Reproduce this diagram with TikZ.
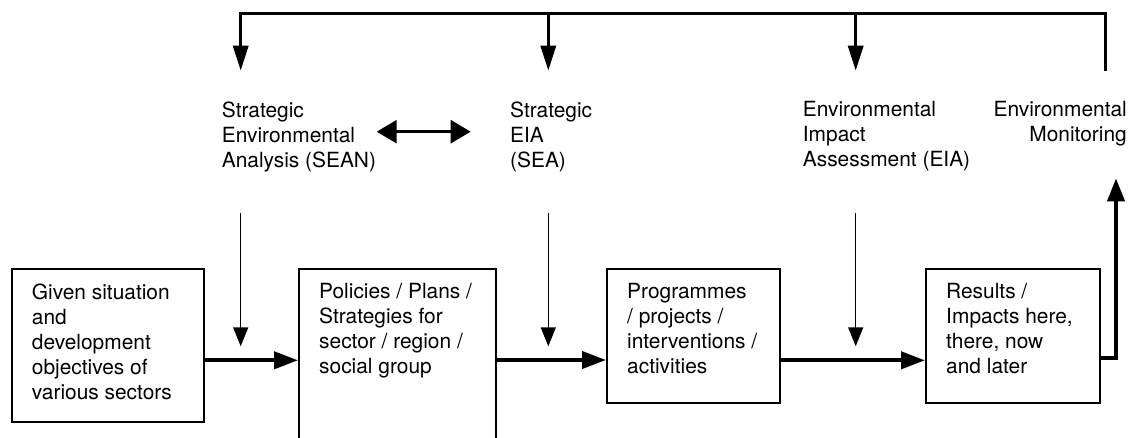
\documentclass[tikz,border=0pt]{standalone}
\usepackage{fontspec}
\setmainfont{TeX Gyre Heros}
\usetikzlibrary{arrows.meta}
\begin{document}
\begin{tikzpicture}[x=1pt,y=-1pt,
  lbl/.style={font=\fontsize{20.9}{25}\selectfont, inner sep=0pt, align=left, anchor=north west},
  rlbl/.style={font=\fontsize{20.9}{25}\selectfont, inner sep=0pt, align=right, anchor=north east},
  boxnode/.style={draw, line width=1.8pt, anchor=north west, inner sep=0pt},
  fdown/.style={line width=3.3pt, -{Triangle[length=25pt,width=15pt]}},
  thinarr/.style={line width=1.5pt, -{Triangle[length=19pt,width=15pt]}},
  flow/.style={line width=4pt, -{Triangle[length=24pt,width=17pt]}},
  dbl/.style={line width=2.5pt, {Triangle[length=20pt,width=23pt]}-{Triangle[length=20pt,width=23pt]}},
]
\clip (0,0) rectangle (1130,437);
\fill[white] (0,0) rectangle (1130,437);

% boxes
\node[boxnode, minimum width=192pt, minimum height=153pt] (b1) at (10.7,268) {};
\node[boxnode, minimum width=197pt, minimum height=190pt] (b2) at (298,268) {};
\node[boxnode, minimum width=173pt, minimum height=134pt] (b3) at (606,268) {};
\node[boxnode, minimum width=174pt, minimum height=134pt] (b4) at (925,268) {};

\node[lbl] (t1) at ([shift={(21,15.5)}]b1.north west) {Given situation\\and\\development\\objectives of\\various sectors};
\node[lbl] (t2) at ([shift={(21,15.5)}]b2.north west) {Policies / Plans /\\Strategies for\\sector / region /\\social group};
\node[lbl] (t3) at ([shift={(21,15.5)}]b3.north west) {Programmes\\/ projects /\\interventions /\\activities};
\node[lbl] (t4) at ([shift={(21,15.5)}]b4.north west) {Results /\\Impacts here,\\there, now\\and later};

% labels
\node[lbl] (sean) at (221.7,101.2) {Strategic\\Environmental\\Analysis (SEAN)};
\node[lbl] (sea) at (510,101.2) {Strategic\\EIA\\(SEA)};
\node[lbl] (eia) at (802.7,101.2) {Environmental\\Impact\\Assessment (EIA)};
\node[rlbl] (mon) at (1127,101.2) {Environmental\\Monitoring};

% top frame
\coordinate (f1) at (240.7,13.3);
\coordinate (f2) at (548.3,13.3);
\coordinate (f3) at (855.7,13.3);
\coordinate (f4) at (1105.7,13.3);
\coordinate (e1) at (240.7,70.7);
\coordinate (e2) at (548.3,70.7);
\coordinate (e3) at (855.7,70.7);
\coordinate (e4) at (1105.7,70.7);
\draw[fdown] (e4) -- (f4) -- (f1) -- (e1);
\draw[fdown] (f2) -- (e2);
\draw[fdown] (f3) -- (e3);

% thin arrows
\coordinate (s1) at (240.7,213.3);
\coordinate (s2) at (548.3,213.3);
\coordinate (s3) at (855.7,213.3);
\coordinate (d1) at (240.7,346.3);
\coordinate (d2) at (548.3,346.3);
\coordinate (d3) at (855.7,346.3);
\draw[thinarr] (s1) -- (d1);
\draw[thinarr] (s2) -- (d2);
\draw[thinarr] (s3) -- (d3);

% double arrow
\coordinate (dl) at (376.7,131.7);
\coordinate (dr) at (470.7,131.7);
\draw[dbl] (dl) -- (dr);

% flow arrows
\draw[flow] (b1.east |- 0,360.3) -- (b2.west |- 0,360.3);
\draw[flow] (b2.east |- 0,360) -- (b3.west |- 0,360);
\draw[flow] (b3.east |- 0,360.3) -- (b4.west |- 0,360.3);

% monitoring feedback
\coordinate (m1) at (1116,357.7);
\coordinate (m2) at (1116,178.3);
\draw[line width=4pt, -{Triangle[length=23pt,width=17pt]}] (b4.east |- m1) -- (m1) -- (m2);
\end{tikzpicture}
\end{document}
